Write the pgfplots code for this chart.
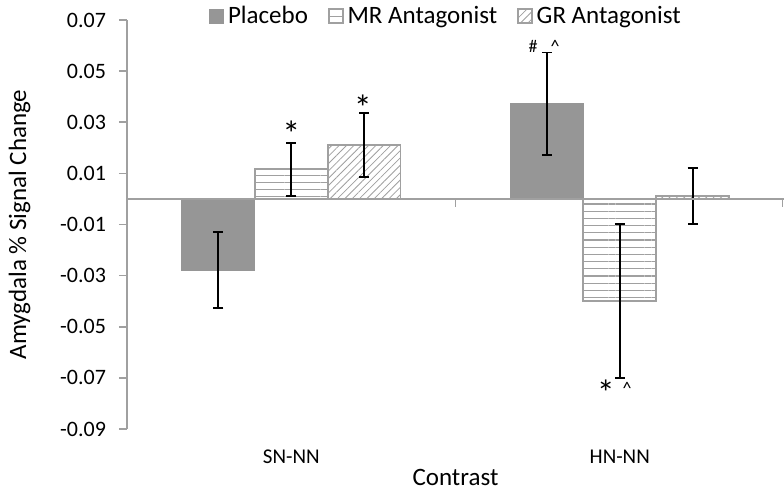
\documentclass[border=0pt]{standalone}
\usepackage{fontspec}
\setmainfont{Carlito}
\usepackage{pgfplots}
\pgfplotsset{compat=1.18}
\usetikzlibrary{patterns.meta}
\definecolor{barGray}{RGB}{150,150,150}
\definecolor{lineGray}{RGB}{160,160,160}

\begin{document}
\begin{tikzpicture}
\begin{axis}[
    scale only axis,
    width=328.5pt, height=204.5pt,
    ybar=0pt, bar width=0.222,
    xmin=-0.5, xmax=1.5,
    ymin=-0.09, ymax=0.07,
    scaled y ticks=false,
    xtick={0,1}, xticklabels={SN-NN,HN-NN},
    ytick={-0.09,-0.07,-0.05,-0.03,-0.01,0.01,0.03,0.05,0.07},
    yticklabels={-0.09,-0.07,-0.05,-0.03,-0.01,0.01,0.03,0.05,0.07},
    axis x line*=bottom, axis y line*=left,
    x axis line style={draw=none},
    major x tick style={draw=none},
    y axis line style={lineGray, line width=0.8pt},
    major y tick style={lineGray, line width=0.8pt},
    tick align=outside, major tick length=4pt,
    yticklabel style={font=\fontsize{11}{13}\selectfont, xshift=-3pt},
    xticklabel style={font=\fontsize{10.5}{12}\selectfont, yshift=-3pt},
    xlabel={Contrast}, ylabel={Amygdala \% Signal Change},
    label style={font=\fontsize{12.5}{15}\selectfont},
    xlabel style={yshift=4pt},
    ylabel style={yshift=8pt},
    legend style={draw=none, fill=none, at={(0.487,1.0)}, anchor=center, yshift=2pt,
        legend columns=3, font=\fontsize{12.5}{15}\selectfont,
        /tikz/every even column/.append style={column sep=8pt}},
    legend image code/.code={\draw[#1] (0pt,-3.5pt) rectangle (7pt,3.5pt);},
    clip=false,
]
\addplot[fill=barGray, draw=barGray,
    error bars/.cd, y dir=both, y explicit,
    error bar style={black, line width=0.9pt},
    error mark options={rotate=90, mark size=2.5pt, black, line width=0.9pt}]
    coordinates {(0,-0.0278) +- (0,0.0150) (1,0.0373) +- (0,0.0200)};
\addlegendentry{Placebo}
\addplot[fill=white, draw=lineGray, line width=0.8pt,
    postaction={pattern={Lines[angle=0,distance=3.6pt,line width=0.6pt]}, pattern color=lineGray},
    error bars/.cd, y dir=both, y explicit,
    error bar style={black, line width=0.9pt},
    error mark options={rotate=90, mark size=2.5pt, black, line width=0.9pt}]
    coordinates {(0,0.0116) +- (0,0.0104) (1,-0.0400) +- (0,0.0302)};
\addlegendentry{MR Antagonist}
\addplot[fill=white, draw=lineGray, line width=0.8pt,
    postaction={pattern={Lines[angle=45,distance=2.6pt,line width=0.4pt]}, pattern color=lineGray},
    error bars/.cd, y dir=both, y explicit,
    error bar style={black, line width=0.9pt},
    error mark options={rotate=90, mark size=2.5pt, black, line width=0.9pt}]
    coordinates {(0,0.0212) +- (0,0.0125) (1,0.0012) +- (0,0.0110)};
\addlegendentry{GR Antagonist}
% zero line with category ticks
\draw[lineGray, line width=0.8pt] (axis cs:-0.5,0) -- (axis cs:1.5,0);
\draw[lineGray, line width=0.8pt] (axis cs:0.5,0) -- ++(0pt,-4pt);
\draw[lineGray, line width=0.8pt] (axis cs:1.495,0) -- ++(0pt,-4pt);
% significance marks
\node[font=\fontsize{18}{20}\selectfont] at (axis cs:0,0.0255) {*};
\node[font=\fontsize{18}{20}\selectfont] at (axis cs:0.218,0.0355) {*};
\node[font=\fontsize{9}{11}\selectfont] at (axis cs:0.736,0.0595) {\#};
\node[font=\fontsize{9}{11}\selectfont] at (axis cs:0.803,0.0595) {\textasciicircum};
\node[font=\fontsize{18}{20}\selectfont] at (axis cs:0.958,-0.0760) {*};
\node[font=\fontsize{9}{11}\selectfont] at (axis cs:1.022,-0.0740) {\textasciicircum};
\end{axis}
\pgfresetboundingbox
\path ([xshift=-63.5pt,yshift=-31.5pt]current axis.south west) rectangle ([yshift=10pt]current axis.north east);
\end{tikzpicture}
\end{document}
